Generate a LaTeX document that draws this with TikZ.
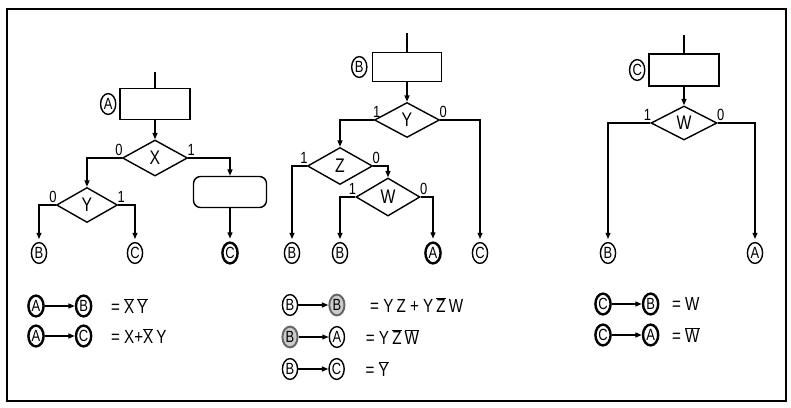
\documentclass[tikz,border=0pt]{standalone}
\usepackage{fontspec}
\setmainfont{Liberation Sans}[FakeStretch=0.8]
\usepackage{tikz}
\usetikzlibrary{arrows.meta, positioning, shapes.geometric, calc}
\newcommand{\nb}[1]{$\overline{\mbox{#1}}$}

\begin{document}
\begin{tikzpicture}[x=0.025cm, y=-0.025cm, line width=1pt,
  arr/.style={-{Triangle[length=4.5pt,width=3.5pt]}},
  blk/.style={draw, minimum width=1.75cm, minimum height=0.775cm, inner sep=0pt},
  dec/.style={draw, diamond, aspect=1.8, inner sep=0pt, minimum width=1.625cm,
    minimum height=0.9cm, font=\fontsize{14}{14}\selectfont},
  con/.style={draw, ellipse, inner sep=0pt, minimum width=0.38cm, minimum height=0.52cm,
    font=\fontsize{11.5}{12}\selectfont},
  conb/.style={con, line width=1.7pt},
  cong/.style={con, fill=gray!40, draw=gray!80!black, line width=1.4pt},
  bitl/.style={font=\fontsize{11.5}{12}\selectfont, inner sep=1pt, anchor=south east, xshift=2pt},
  bitr/.style={font=\fontsize{11.5}{12}\selectfont, inner sep=1pt, anchor=south west, xshift=-2pt},
  eqn/.style={font=\fontsize{13.5}{14}\selectfont, inner sep=0pt}]
  \useasboundingbox (0,0) rectangle (791,408);
  % frame
  \draw[line width=1.4pt] (7,9) rectangle (786,401);

  % --- chart A (x = 155)
  \coordinate (a0in) at (155,72);
  \node[blk] (a0) at (155,104) {};
  \node[con, left=2pt of a0] (lA) {A};
  \node[dec] (aX) at (155,158) {X};
  \node[dec, minimum width=1.525cm, minimum height=0.875cm] (aY) at (87,205) {Y};
  \node[blk, rounded corners=5pt, minimum width=1.825cm] (a1) at (230,192) {};
  \node[con] (aB) at (39,253) {B};
  \node[con] (aC) at (135,253) {C};
  \node[conb] (aC2) at (230,253) {C};
  \draw (a0in) -- (a0.north);
  \draw[arr] (a0) -- (aX);
  \draw[arr] (aX.west) -| (aY.north);
  \draw[arr] (aX.east) -| (a1.north);
  \draw[arr, shorten >=2pt] (aY.west) -| (aB.north);
  \draw[arr, shorten >=2pt] (aY.east) -| (aC.north);
  \draw[arr, shorten >=2pt] (a1) -- (aC2);
  \node[bitl] at (aX.west) {0};
  \node[bitr] at (aX.east) {1};
  \node[bitl] at (aY.west) {0};
  \node[bitr] at (aY.east) {1};

  % --- chart B (x = 407)
  \coordinate (b0in) at (407,33);
  \node[blk, minimum width=1.725cm, minimum height=0.725cm] (b0) at (407,67) {};
  \node[con, left=3pt of b0] (lB) {B};
  \node[dec, minimum height=0.875cm] (bY) at (407,120) {Y};
  \node[dec, minimum height=0.925cm] (bZ) at (340,166) {Z};
  \node[dec, minimum width=1.6cm, minimum height=0.95cm] (bW) at (388,197) {W};
  \node[con] (bB1) at (292,253) {B};
  \node[con] (bB2) at (340,253) {B};
  \node[conb] (bA) at (433,253) {A};
  \node[con] (bC) at (480,253) {C};
  \draw (b0in) -- (b0.north);
  \draw[arr] (b0) -- (bY);
  \draw[arr] (bY.west) -| (bZ.north);
  \draw[arr, shorten >=2pt] (bY.east) -| (bC.north);
  \draw[arr, shorten >=2pt] (bZ.west) -| (bB1.north);
  \draw[arr] (bZ.east) -| (bW.north);
  \draw[arr, shorten >=2pt] (bW.west) -| (bB2.north);
  \draw[arr, shorten >=2pt] (bW.east) -| (bA.north);
  \node[bitl, anchor=south, xshift=0pt] at (bY.west) {1};
  \node[bitr] at (bY.east) {0};
  \node[bitl] at (bZ.west) {1};
  \node[bitr] at (bZ.east) {0};
  \node[bitl] at (bW.west) {1};
  \node[bitr] at (bW.east) {0};

  % --- chart C (x = 684)
  \coordinate (c0in) at (684,35);
  \node[blk, minimum height=0.8cm] (c0) at (684,70) {};
  \node[con, left=2pt of c0] (lC) {C};
  \node[dec, minimum width=1.65cm, minimum height=0.85cm] (cW) at (684,123) {W};
  \node[con] (cB) at (608,253) {B};
  \node[con] (cA) at (755,253) {A};
  \draw (c0in) -- (c0.north);
  \draw[arr] (c0) -- (cW);
  \draw[arr, shorten >=2pt] (cW.west) -| (cB.north);
  \draw[arr, shorten >=2pt] (cW.east) -| (cA.north);
  \node[bitl] at (cW.west) {1};
  \node[bitr] at (cW.east) {0};

  % --- transition equations
  \node[conb] (e1a) at (36,306) {A};
  \node[conb, right=0.75cm of e1a] (e1b) {B};
  \node[eqn, right=0.45cm of e1b] {= \nb{X}\,\nb{Y}};
  \node[conb] (e2a) at (36,336) {A};
  \node[conb, right=0.75cm of e2a] (e2b) {C};
  \node[eqn, right=0.45cm of e2b] {= X+\nb{X}\,Y};
  \draw[arr] (e1a) -- (e1b);
  \draw[arr] (e2a) -- (e2b);

  \node[con] (e3a) at (290,305) {B};
  \node[cong, right=0.75cm of e3a] (e3b) {B};
  \node[eqn, right=0.6cm of e3b] {= Y\,Z + Y\,\nb{Z}\,W};
  \node[cong] (e4a) at (290,337) {B};
  \node[con, right=0.75cm of e4a] (e4b) {A};
  \node[eqn, right=0.5cm of e4b] {= Y\,\nb{Z}\,\nb{W}};
  \node[con] (e5a) at (290,369) {B};
  \node[con, right=0.75cm of e5a] (e5b) {C};
  \node[eqn, right=0.5cm of e5b] {= \nb{Y}};
  \draw[arr] (e3a) -- (e3b);
  \draw[arr] (e4a) -- (e4b);
  \draw[arr] (e5a) -- (e5b);

  \node[conb] (e6a) at (603,304) {C};
  \node[conb, right=0.75cm of e6a] (e6b) {B};
  \node[eqn, right=0.3cm of e6b] {= W};
  \node[conb] (e7a) at (603,335) {C};
  \node[conb, right=0.75cm of e7a] (e7b) {A};
  \node[eqn, right=0.3cm of e7b] {= \nb{W}};
  \draw[arr] (e6a) -- (e6b);
  \draw[arr] (e7a) -- (e7b);
\end{tikzpicture}
\end{document}
